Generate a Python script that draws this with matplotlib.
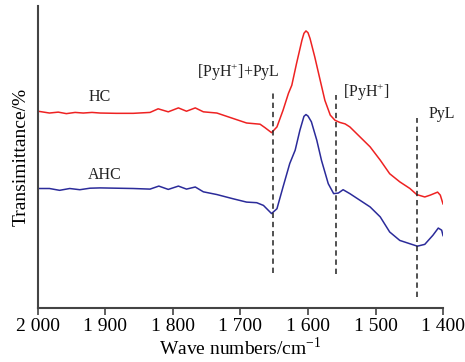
import matplotlib
matplotlib.use("Agg")
import matplotlib.pyplot as plt

# Wavenumbers (cm^-1) and transmittance (arbitrary units, 0-100 scale)
hc_wn = [2000, 1983, 1970, 1958, 1945, 1933, 1920, 1908, 1884, 1859, 1834, 1822,
         1807, 1792, 1780, 1767, 1755, 1735, 1711, 1691, 1671, 1664, 1654, 1646,
         1637, 1629, 1624, 1617, 1609, 1606, 1603, 1600, 1597, 1590, 1582, 1575,
         1567, 1560, 1553, 1545, 1538, 1523, 1508, 1493, 1479, 1464, 1449, 1439,
         1427, 1419, 1408, 1404, 1400]
hc_t = [65.2, 64.6, 64.9, 64.4, 64.8, 64.6, 64.8, 64.6, 64.5, 64.5, 64.8, 66.0,
        65.0, 66.3, 65.2, 66.3, 65.0, 64.6, 62.8, 61.3, 60.9, 59.8, 58.1, 60.0,
        65.5, 71.1, 73.8, 81.0, 88.7, 91.0, 91.8, 91.2, 89.3, 83.2, 75.5, 68.8,
        63.9, 62.2, 61.5, 61.0, 60.0, 56.7, 53.4, 49.0, 44.5, 41.8, 39.6, 37.6,
        36.8, 37.4, 38.4, 37.4, 34.5]

ahc_wn = [2000, 1983, 1968, 1953, 1938, 1923, 1908, 1859, 1834, 1821, 1807, 1792,
          1780, 1767, 1755, 1735, 1711, 1691, 1676, 1666, 1654, 1646, 1637, 1627,
          1619, 1612, 1606, 1603, 1600, 1595, 1587, 1580, 1570, 1562, 1555, 1548,
          1538, 1523, 1508, 1493, 1479, 1464, 1449, 1438, 1427, 1415, 1407, 1402,
          1400]
ahc_t = [39.6, 39.6, 39.0, 39.6, 39.2, 39.7, 39.8, 39.6, 39.4, 40.4, 39.3, 40.4,
         39.4, 40.1, 38.5, 37.6, 36.2, 35.1, 34.9, 34.0, 31.3, 32.9, 40.1, 47.9,
         52.3, 58.9, 63.5, 64.1, 63.6, 61.7, 55.6, 48.9, 41.2, 37.9, 38.1, 39.2,
         37.9, 35.7, 33.5, 30.2, 25.2, 22.4, 21.3, 20.5, 21.1, 24.1, 26.5, 25.8,
         24.0]

# Reference band positions (dashed markers)
band_wn = [1652, 1558, 1439]
band_lo = [11.6, 11.2, 3.6]
band_hi = [71.3, 70.7, 63.1]

band_labels = ["[PyH$^{+}$]+PyL", "[PyH$^{+}$]", "PyL"]
band_label_x = [1703, 1513, 1401]
band_label_y = [78.2, 71.6, 64.4]

series_labels = ["HC", "AHC"]
series_label_x = [1908, 1901]
series_label_y = [70.0, 44.0]

xticks = [2000, 1900, 1800, 1700, 1600, 1500, 1400]
xtick_labels = ["2 000", "1 900", "1 800", "1 700", "1 600", "1 500", "1 400"]

plt.rcParams['font.family'] = ['Liberation Serif', 'DejaVu Serif']
plt.rcParams['mathtext.fontset'] = 'custom'
plt.rcParams['mathtext.rm'] = 'Liberation Serif'

fig = plt.figure(figsize=(4.65, 3.62), dpi=100)
ax = fig.add_axes([0.0817, 0.149, 0.871, 0.834])

ax.plot(hc_wn, hc_t, color='#ee2222', lw=1.1, solid_joinstyle='round')
ax.plot(ahc_wn, ahc_t, color='#2b2b9a', lw=1.1, solid_joinstyle='round')

for x, lo, hi in zip(band_wn, band_lo, band_hi):
    ax.plot([x, x], [lo, hi], color='#222222', lw=1.1, ls=(0, (3.5, 2.5)))

for s, x, y in zip(band_labels, band_label_x, band_label_y):
    ax.text(x, y, s, fontsize=11.5, ha='center', va='center', color='#222222')
for s, x, y in zip(series_labels, series_label_x, series_label_y):
    ax.text(x, y, s, fontsize=11.5, ha='center', va='center', color='#222222')

ax.set_xlim(2000, 1400)
ax.set_ylim(0, 100)
ax.set_xticks(xticks)
ax.set_xticklabels(xtick_labels, fontsize=14)
ax.set_yticks([])
ax.tick_params(axis='x', direction='out', length=5, width=1.2, color='#444444', pad=2)
for side in ['top', 'right']:
    ax.spines[side].set_visible(False)
for side in ['left', 'bottom']:
    ax.spines[side].set_color('#444444')
    ax.spines[side].set_linewidth(1.5)

ax.set_xlabel("Wave numbers/cm$^{-1}$", fontsize=14, labelpad=1)
ax.set_ylabel("Transimittance/%", fontsize=14, labelpad=6)

fig.savefig("out.png", dpi=100)
